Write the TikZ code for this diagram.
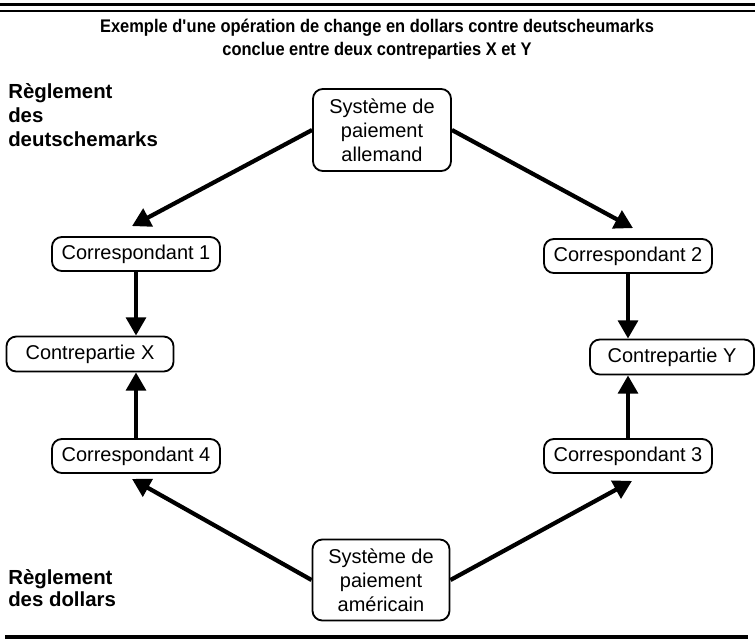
\documentclass[tikz,border=0pt]{standalone}
\usepackage{fontspec}
\setmainfont{Liberation Sans}
\newfontfamily\titrefont[FakeStretch=0.9]{Liberation Sans}
\usetikzlibrary{arrows.meta}

\begin{document}
\begin{tikzpicture}
  [x=0.025cm,y=-0.025cm,
   boite/.style={draw,rounded corners=7pt,line width=1.3pt,align=center,inner sep=0pt,
     font=\fontsize{14.2}{17}\selectfont},
   corr/.style={boite,minimum width=4.2cm,minimum height=0.85cm},
   syst/.style={boite,minimum width=3.45cm,minimum height=2.05cm},
   fleche/.style={line width=3pt,-{Triangle[length=13pt,width=14pt]}},
   titre/.style={font=\titrefont\bfseries\fontsize{13}{16}\selectfont,anchor=base,inner sep=0pt},
   legende/.style={font=\bfseries\fontsize{14.5}{17}\selectfont,align=left,anchor=north west,inner sep=0pt}]
  \useasboundingbox (0,0) rectangle (755,640);

  % filets du cadre
  \draw[line width=2.5pt] (0,4.5) -- (755,4.5);
  \draw[line width=1.4pt] (0,11) -- (755,11);
  \draw[line width=3pt] (5,637) -- (748,637);

  \node[titre] (t1) at (377,32) {Exemple d\textquotesingle une opération de change en dollars contre deutscheumarks};
  \node[titre] (t2) at (377,55) {conclue entre deux contreparties X et Y};

  \node[legende] (regde) at (8,83) {Règlement\\des\\deutschemarks};
  \node[legende,font=\bfseries\fontsize{14.5}{16}\selectfont] (regus) at (8,569) {Règlement\\des dollars};

  \node[syst] (sysde) at (382,130) {Système de\\paiement\\allemand};
  \node[corr] (c1) at (136,254) {Correspondant 1};
  \node[corr] (c2) at (628,256) {Correspondant 2};
  \node[corr,minimum width=4.175cm,minimum height=0.875cm] (cx) at (90,354) {Contrepartie X};
  \node[corr,minimum width=4.1cm,minimum height=0.875cm] (cy) at (672,357) {Contrepartie Y};
  \node[corr] (c4) at (136,456) {Correspondant 4};
  \node[corr] (c3) at (628,456) {Correspondant 3};
  \node[syst,minimum width=3.425cm,minimum height=2.025cm] (sysus) at (381,580) {Système de\\paiement\\américain};

  \foreach \from/\to/\dx/\dy in {sysde.west/c1.north/-4/-10, sysde.east/c2.north/5/-10,
                                 sysus.west/c4.south/-4/5, sysus.east/c3.south/4/7}
    \draw[fleche] (\from) -- ([shift={(\dx,\dy)}]\to);

  \foreach \from/\to in {c1/cx, c2/cy}
    \draw[fleche] (\from.south) -- (\from.south |- \to.north);
  \foreach \from/\to in {c4/cx, c3/cy}
    \draw[fleche] (\from.north) -- (\from.north |- \to.south);
\end{tikzpicture}
\end{document}
